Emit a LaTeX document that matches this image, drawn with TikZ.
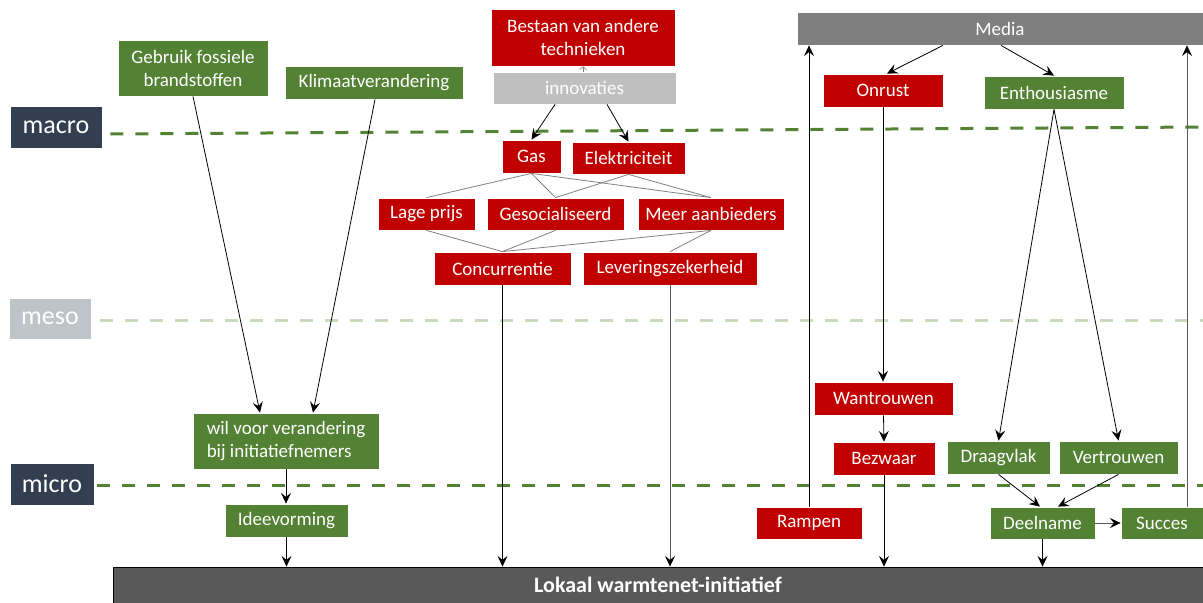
\documentclass[tikz,border=0pt]{standalone}
\usepackage{fontspec}
\setmainfont{Carlito}
\usetikzlibrary{arrows.meta,calc}

\definecolor{tred}{HTML}{C00000}
\definecolor{tgreen}{HTML}{548235}
\definecolor{navy}{HTML}{333F50}
\definecolor{lgray}{HTML}{BFBFBF}
\definecolor{mgray}{HTML}{7F7F7F}
\definecolor{dgray}{HTML}{595959}
\definecolor{mesogray}{HTML}{BFC4C9}
\definecolor{mesoline}{HTML}{C9DBBF}

\newcommand\nfont{\fontsize{14.25pt}{17.25pt}\selectfont}
\newcommand\lfont{\fontsize{19.5pt}{22pt}\selectfont}
\newcommand\bfont{\fontsize{16.5pt}{19pt}\selectfont\bfseries}

% box from corner (x1,y1) to corner (x2,y2), in pixel units
\newcommand{\place}[7]{%
  \node[#1, minimum width={(#5-#3)*0.75pt}, minimum height={(#6-#4)*0.75pt}]
    (#2) at ({(#3+#5)/2},{(#4+#6)/2}) {#7};}

\tikzset{
  box/.style={draw=white, line width=0.6pt, text=white, inner sep=0pt,
              align=center, font=\nfont},
  redbox/.style={box, fill=tred},
  greenbox/.style={box, fill=tgreen},
  graybox/.style={box, fill=lgray},
  levelbox/.style={box, font=\lfont},
  conn/.style={draw=black, line width=0.6pt,
               -{Stealth[length=8pt,width=7.5pt,inset=3pt,color=black]}},
  link/.style={draw=gray, line width=0.6pt},
  levelline/.style={line width=2.25pt, dash pattern=on 9.75pt off 9pt},
}

\begin{document}
\begin{tikzpicture}[x=0.75pt,y=-0.75pt]
\useasboundingbox (0,0) rectangle (1203,603);

% level labels
\place{levelbox, fill=navy}{macro}{10}{106}{102}{148}{macro}
\place{levelbox, fill=mesogray}{meso}{9}{298}{91}{339}{meso}
\place{levelbox, fill=navy}{micro}{10}{463}{94}{505}{micro}

% level separators
\coordinate (macroend) at (1203,127);
\coordinate (mesoend) at (1203,320);
\coordinate (microend) at (1203,485);
\draw[levelline, tgreen] ($(macro.east)+(8,7)$) -- (macroend);
\draw[levelline, mesoline] ($(meso.east)+(9,1.5)$) -- (mesoend);
\draw[levelline, tgreen] ($(micro.east)+(3,1)$) -- (microend);

% bottom bar
\place{box, fill=dgray, draw=black, font=\bfont}{bar}{113}{567}{1203}{603}{Lokaal warmtenet-initiatief}

% left column
\place{greenbox}{fossil}{118}{40}{268}{96}{Gebruik fossiele\\brandstoffen}
\place{greenbox}{klimaat}{285}{66}{463}{99}{Klimaatverandering}
\place{greenbox, align=left}{wil}{193}{413}{379}{469}{wil voor verandering\\bij initiatiefnemers}
\place{greenbox}{idee}{225}{504}{348}{537}{Ideevorming}

% middle column
\place{redbox}{bestaan}{491}{9}{675}{66}{Bestaan van andere\\technieken}
\place{graybox}{innov}{493}{72}{676}{104}{innovaties}
\place{redbox}{gas}{502}{140}{561}{173}{Gas}
\place{redbox}{elek}{572}{142}{685}{174}{Elektriciteit}
\place{redbox}{lage}{378}{198}{475}{230}{Lage prijs}
\place{redbox}{geso}{487}{198}{624}{230}{Gesocialiseerd}
\place{redbox}{meer}{638}{198}{784}{230}{Meer aanbieders}
\place{redbox}{conc}{434}{252}{571}{285}{Concurrentie}
\place{redbox}{lever}{583}{252}{757}{285}{Leveringszekerheid}

% right column
\place{box, fill=mgray}{media}{797}{12}{1203}{45}{Media}
\place{redbox}{onrust}{823}{74}{943}{107}{Onrust}
\place{greenbox}{enth}{984}{76}{1124}{109}{Enthousiasme}
\place{redbox}{wantr}{814}{382}{953}{415}{Wantrouwen}
\place{redbox}{bezw}{833}{442}{935}{475}{Bezwaar}
\place{redbox}{rampen}{756}{507}{862}{539}{Rampen}
\place{greenbox}{draag}{947}{441}{1050}{474}{Draagvlak}
\place{greenbox}{vertr}{1059}{441}{1178}{474}{Vertrouwen}
\place{greenbox}{deel}{990}{507}{1095}{539}{Deelname}
\place{greenbox}{succes}{1121}{507}{1203}{539}{Succes}

% left connectors
\draw[conn] (fossil.south) -- ($(wil.north)+(-26,0)$);
\draw[conn] ($(klimaat.south)+(1,0)$) -- ($(wil.north)+(27,0)$);
\draw[conn] (wil.south) -- (wil.south |- idee.north);
\draw[conn] (idee.south) -- (idee.south |- bar.north);

% middle connectors
\draw[draw=gray, line width=0.5pt, -{Straight Barb[length=2pt,width=5pt]}]
  ($(innov.north)+(-1.5,0)$) -- (bestaan.south);
\draw[conn] ($(innov.south)+(-29.5,0)$) -- (gas.north);
\draw[conn] ($(innov.south)+(22.5,0)$) -- (elek.north);
\draw[link] (gas.south) -- (lage.north);
\draw[link] (gas.south) -- (geso.north);
\draw[link] (gas.south) -- (meer.north);
\draw[link] (elek.south) -- (geso.north);
\draw[link] (elek.south) -- (meer.north);
\draw[link] (lage.south) -- (conc.north);
\draw[link] (geso.south) -- (conc.north);
\draw[link] (meer.south) -- (conc.north);
\draw[link] (meer.south) -- (lever.north);
\draw[conn] (conc.south) -- (conc.south |- bar.north);
\draw[conn, draw=gray!70!black] (lever.south) -- (lever.south |- bar.north);

% right connectors
\coordinate (sx) at ($(succes.north)+(25,0)$);
\draw[conn] ($(media.south)+(-57,0)$) -- ($(onrust.north)+(4,0)$);
\draw[conn] ($(media.south)+(1,0)$) -- (enth.north);
\draw[conn] (rampen.north) -- (rampen.north |- media.south);
\draw[conn, draw=gray!70!black] (sx) -- (sx |- media.south);
\draw[conn] (onrust.south) -- (onrust.south |- wantr.north);
\draw[conn] (wantr.south) -- (bezw.north);
\draw[conn] (bezw.south) -- (bezw.south |- bar.north);
\draw[conn] (enth.south) -- (draag.north);
\draw[conn] (enth.south) -- (vertr.north);
\draw[conn] (draag.south) -- ($(deel.north)+(-2.5,0)$);
\draw[conn] (vertr.south) -- ($(deel.north)+(15.5,0)$);
\draw[conn, draw=gray!70!black] (deel.east) -- (succes.west);
\draw[conn] (deel.south) -- (deel.south |- bar.north);
\end{tikzpicture}
\end{document}
